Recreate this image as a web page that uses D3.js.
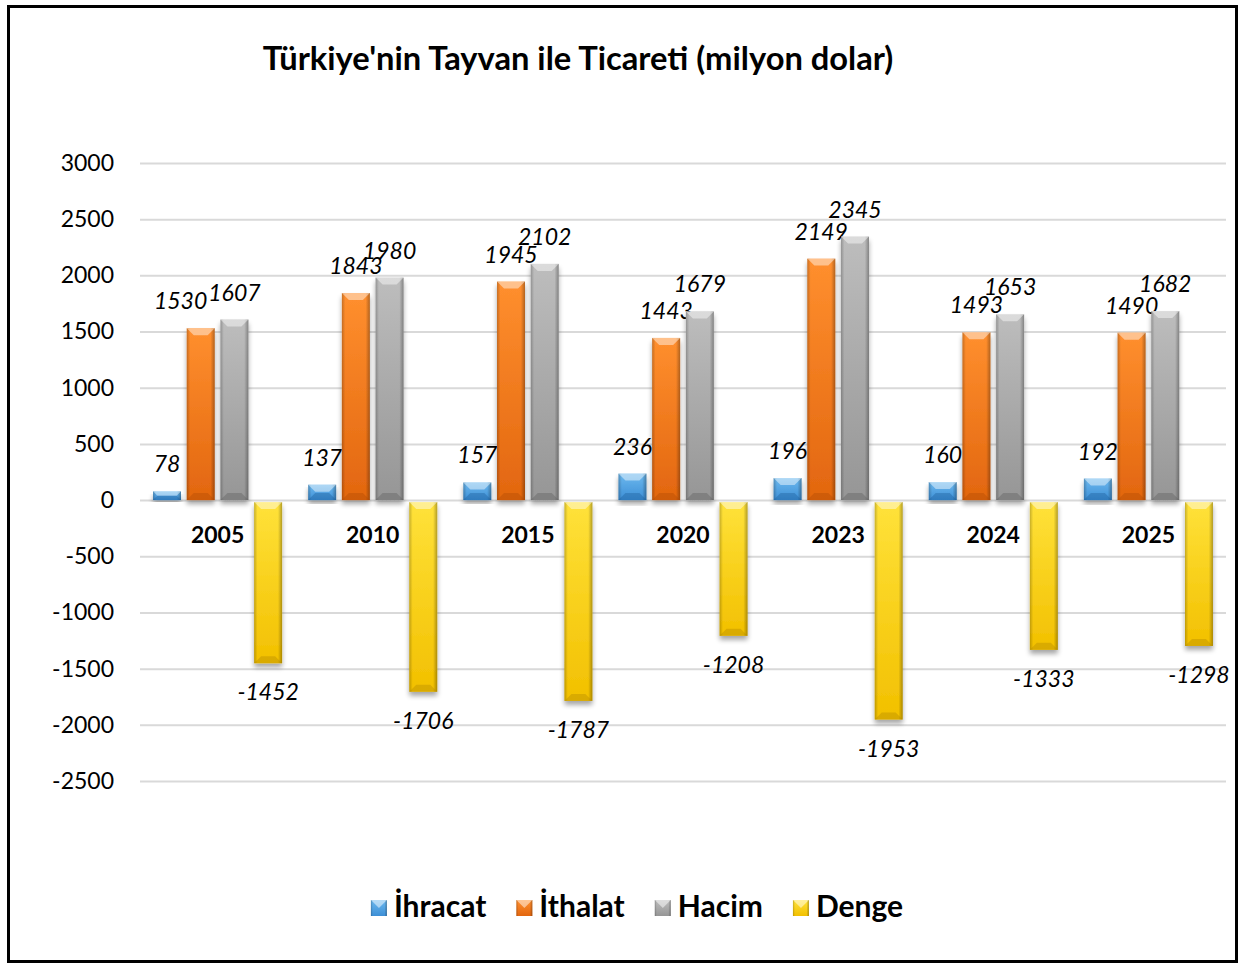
<!DOCTYPE html>
<html lang="tr">
<head>
<meta charset="utf-8">
<title>Türkiye'nin Tayvan ile Ticareti</title>
<script src="https://cdn.jsdelivr.net/npm/d3@7"></script>
<style>
  body { margin: 0; background: #fff; }
  svg text { font-family: Lato, "Open Sans", sans-serif; fill: #000; }
  .grid line { stroke: #d9d9d9; stroke-width: 2; }
  .grid text { font-size: 23px; }
</style>
</head>
<body>
<script>
// Data
var years = ["2005", "2010", "2015", "2020", "2023", "2024", "2025"];
var seriesNames = ["İhracat", "İthalat", "Hacim", "Denge"];
var ihracat = [78, 137, 157, 236, 196, 160, 192];
var ithalat = [1530, 1843, 1945, 1443, 2149, 1493, 1490];
var hacim = [1607, 1980, 2102, 1679, 2345, 1653, 1682];
var denge = [-1452, -1706, -1787, -1208, -1953, -1333, -1298];
var yTicks = [3000, 2500, 2000, 1500, 1000, 500, 0, -500, -1000, -1500, -2000, -2500];

var allSeries = [ihracat, ithalat, hacim, denge];

// colours: [light, base, dark]
var palette = [
  ["#6cb8ee", "#3d8fd6", "#1f5f9a"],
  ["#ff8f2e", "#e2660f", "#b24a06"],
  ["#bdbdbd", "#969696", "#5e5e5e"],
  ["#ffe23a", "#f2c000", "#b38a00"]
];

var w = 1241, h = 965;
var plotLeft = 140, plotRight = 1226, plotTop = 163, plotBottom = 781;
var labelSize = 23;

var svg = d3.select("body").append("svg")
  .attr("width", w).attr("height", h);

var defs = svg.append("defs");

palette.forEach(function(c, i) {
  var g = defs.append("linearGradient").attr("id", "vg" + i)
    .attr("x1", 0).attr("y1", 0).attr("x2", 0).attr("y2", 1);
  g.append("stop").attr("offset", "0%").attr("stop-color", c[0]);
  g.append("stop").attr("offset", "100%").attr("stop-color", c[1]);
});

var side = defs.append("linearGradient").attr("id", "side")
  .attr("x1", 0).attr("y1", 0).attr("x2", 1).attr("y2", 0);
side.append("stop").attr("offset", "0%").attr("stop-color", "#000").attr("stop-opacity", 0.22);
side.append("stop").attr("offset", "12%").attr("stop-color", "#000").attr("stop-opacity", 0.0);
side.append("stop").attr("offset", "85%").attr("stop-color", "#000").attr("stop-opacity", 0.0);
side.append("stop").attr("offset", "100%").attr("stop-color", "#000").attr("stop-opacity", 0.3);

var shadow = defs.append("filter").attr("id", "shadow")
  .attr("x", "-30%").attr("y", "-10%").attr("width", "160%").attr("height", "130%");
shadow.append("feGaussianBlur").attr("in", "SourceAlpha").attr("stdDeviation", 2.5).attr("result", "b");
shadow.append("feOffset").attr("in", "b").attr("dx", 0).attr("dy", 4).attr("result", "o");
shadow.append("feComponentTransfer").attr("in", "o").attr("result", "s")
  .append("feFuncA").attr("type", "linear").attr("slope", 0.35);
var merge = shadow.append("feMerge");
merge.append("feMergeNode").attr("in", "s");
merge.append("feMergeNode").attr("in", "SourceGraphic");

// Frame
svg.append("rect")
  .attr("x", 8.5).attr("y", 6.5).attr("width", 1228).attr("height", 955)
  .attr("fill", "#fff").attr("stroke", "#000").attr("stroke-width", 3);

// Title
svg.append("text")
  .attr("x", 578).attr("y", 70)
  .attr("text-anchor", "middle")
  .attr("font-size", "32.7px").attr("font-weight", "bold")
  .text("Türkiye'nin Tayvan ile Ticareti (milyon dolar)");

// Scales
var x0 = d3.scaleBand().domain(years).range([plotLeft, plotRight])
  .paddingInner(0.168).paddingOuter(0.084);
var x1 = d3.scaleBand().domain(d3.range(4)).range([0, x0.bandwidth()])
  .paddingInner(0.17).paddingOuter(0);
var y = d3.scaleLinear().domain([-2500, 3000]).range([plotBottom, plotTop]);

// Grid and y axis
var yAxis = d3.axisLeft(y).tickValues(yTicks)
  .tickSize(-(plotRight - plotLeft)).tickPadding(26)
  .tickFormat(function(d) { return String(d); });
svg.append("g").attr("class", "grid")
  .attr("transform", "translate(" + plotLeft + ",0)")
  .call(yAxis)
  .call(function(g) { g.select(".domain").remove(); });

// Bars
var groups = svg.selectAll("g.year").data(years).enter().append("g")
  .attr("class", "year")
  .attr("transform", function(d) { return "translate(" + x0(d) + ",0)"; });

var bars = groups.selectAll("g.bar")
  .data(function(d, yi) {
    return allSeries.map(function(s, si) { return { si: si, v: s[yi] }; });
  })
  .enter().append("g").attr("class", "bar");

var bw = x1.bandwidth();

function barTop(d) { return d.v >= 0 ? y(d.v) : y(0) + 2; }
function barH(d) { return d.v >= 0 ? y(0) - y(d.v) : y(d.v) - y(0) - 2; }

bars.append("rect")
  .attr("x", function(d) { return x1(d.si); })
  .attr("y", barTop)
  .attr("width", bw)
  .attr("height", barH)
  .attr("fill", function(d) { return "url(#vg" + d.si + ")"; })
  .attr("filter", "url(#shadow)");

bars.append("rect")
  .attr("x", function(d) { return x1(d.si); })
  .attr("y", barTop)
  .attr("width", bw)
  .attr("height", barH)
  .attr("fill", "url(#side)");

// top bevel (light)
bars.append("path")
  .attr("d", function(d) {
    var x = x1(d.si), t = barTop(d), b = Math.min(7, barH(d) / 2);
    return "M" + x + "," + t + "L" + (x + bw) + "," + t +
      "L" + (x + bw - b) + "," + (t + b) + "L" + (x + b) + "," + (t + b) + "Z";
  })
  .attr("fill", "#fff").attr("fill-opacity", 0.45);

// bottom bevel (dark)
bars.append("path")
  .attr("d", function(d) {
    var x = x1(d.si), t = barTop(d), hh = barH(d), b = Math.min(7, hh / 2);
    var e = t + hh;
    return "M" + x + "," + e + "L" + (x + bw) + "," + e +
      "L" + (x + bw - b) + "," + (e - b) + "L" + (x + b) + "," + (e - b) + "Z";
  })
  .attr("fill", function(d) { return palette[d.si][2]; }).attr("fill-opacity", 0.4);

// Value labels
bars.append("text")
  .attr("class", function(d) { return "val s" + d.si; })
  .attr("x", function(d) { return x1(d.si) + bw / 2; })
  .attr("y", function(d) { return d.v >= 0 ? y(d.v) - 19 : y(d.v) + 37; })
  .attr("text-anchor", "middle")
  .attr("font-size", labelSize + "px").attr("font-style", "italic")
  .text(function(d) { return d.v; });

// nudge an İthalat label left when it sits nearly level with the Hacim label
groups.each(function() {
  var g = d3.select(this);
  var a = g.select("text.s1"), b = g.select("text.s2");
  var ba = a.node().getBBox(), bb = b.node().getBBox();
  var capH = labelSize * 0.55;
  var ya = +a.attr("y"), yb = +b.attr("y");
  var vOver = Math.min(ya, yb) - Math.max(ya - capH, yb - capH);
  var hOver = (ba.x + ba.width) - bb.x;
  if (vOver > 0 && hOver > 0) a.attr("dx", -(hOver + 1));
});

// Category labels
groups.append("text")
  .attr("x", x0.bandwidth() / 2)
  .attr("y", 543)
  .attr("text-anchor", "middle")
  .attr("font-size", "23px").attr("font-weight", "bold")
  .text(function(d) { return d; });

// Legend
var legend = svg.append("g").attr("class", "legend");
var items = legend.selectAll("g").data(seriesNames).enter().append("g");
items.append("rect")
  .attr("x", 0).attr("y", -17).attr("width", 16).attr("height", 16)
  .attr("fill", function(d, i) { return "url(#vg" + i + ")"; });
items.append("rect")
  .attr("x", 0).attr("y", -17).attr("width", 16).attr("height", 16)
  .attr("fill", "url(#side)");
items.append("path")
  .attr("d", "M0,-17L16,-17L8,-9Z")
  .attr("fill", "#fff").attr("fill-opacity", 0.5);
items.append("text")
  .attr("x", 23).attr("y", 0)
  .attr("font-size", "30px").attr("font-weight", "bold")
  .text(function(d) { return d; });

var pos = 0;
items.each(function() {
  var g = d3.select(this);
  g.attr("transform", "translate(" + pos + ",0)");
  pos += 23 + g.select("text").node().getComputedTextLength() + 30;
});
pos -= 30;
legend.attr("transform", "translate(" + (637 - pos / 2) + ",917)");
</script>
</body>
</html>
